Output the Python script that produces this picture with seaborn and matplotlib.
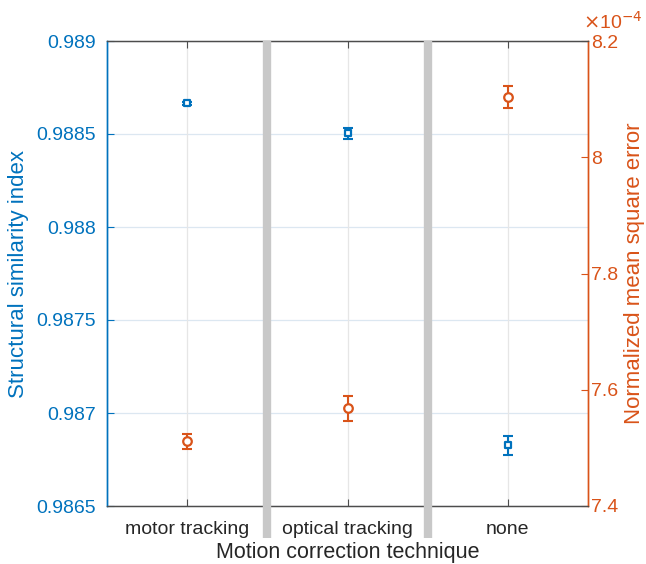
import numpy as np
import pandas as pd
import matplotlib
matplotlib.use("Agg")
import matplotlib.pyplot as plt
import seaborn as sns
from matplotlib.ticker import FuncFormatter

# ---- data ----
categories = ["motor tracking", "optical tracking", "none"]
ssim_mean = [0.988665, 0.988504, 0.986826]
ssim_err = [0.000008, 0.000030, 0.000050]
nmse_mean = [7.511, 7.568, 8.104]      # in units of 1e-4
nmse_err = [0.013, 0.021, 0.019]
ssim_ticks = [0.9865, 0.987, 0.9875, 0.988, 0.9885, 0.989]
nmse_ticks = [7.4, 7.6, 7.8, 8.0, 8.2]

BLUE = "#0072BD"
ORANGE = "#D95319"

sns.set_style("white")
plt.rcParams["font.family"] = ["Liberation Sans", "DejaVu Sans"]

df = pd.DataFrame({"cat": categories, "x": np.arange(len(categories)),
                   "ssim": ssim_mean, "ssim_err": ssim_err,
                   "nmse": nmse_mean, "nmse_err": nmse_err})

fig = plt.figure(figsize=(6.46, 5.64), dpi=100)
ax = fig.add_axes([107/646, 1-506/564, (588-107)/646, (506-41)/564])
ax2 = ax.twinx()

# left axis
ax.errorbar(df["x"], df["ssim"], yerr=df["ssim_err"], fmt="none",
            ecolor=BLUE, elinewidth=1.5, capsize=3.5, capthick=1.5, zorder=3)
sns.scatterplot(data=df, x="x", y="ssim", ax=ax, marker="s", s=22,
                facecolor="white", edgecolor=BLUE, linewidth=1.6, zorder=4, legend=False)
ax.set_ylim(0.9865, 0.989)
ax.set_yticks(ssim_ticks)
ax.yaxis.set_major_formatter(FuncFormatter(lambda v, p: f"{v:g}"))
ax.set_xlim(-0.5, 2.5)
ax.set_xticks(df["x"])
ax.set_xticklabels(categories)

# right axis
ax2.errorbar(df["x"], df["nmse"], yerr=df["nmse_err"], fmt="none",
             ecolor=ORANGE, elinewidth=1.5, capsize=3.5, capthick=1.5, zorder=3)
sns.scatterplot(data=df, x="x", y="nmse", ax=ax2, marker="o", s=38,
                facecolor="white", edgecolor=ORANGE, linewidth=1.6, zorder=4, legend=False)
ax2.set_ylim(7.4, 8.2)
ax2.set_yticks(nmse_ticks)
ax2.yaxis.set_major_formatter(FuncFormatter(lambda v, p: f"{v:g}"))
ax2.set_xlim(-0.5, 2.5)

# grid
ax.grid(False)
ax2.grid(False)
for t in ssim_ticks:
    ax.axhline(t, color="#dce7f1", lw=0.9, zorder=0)
for xv in df["x"]:
    ax.axvline(xv, color="#e6e6e6", lw=0.9, zorder=0)

# spines
for a in (ax, ax2):
    a.spines["top"].set_color("#4d4d4d")
    a.spines["bottom"].set_color("#4d4d4d")
    a.spines["top"].set_linewidth(0.9)
    a.spines["bottom"].set_linewidth(0.9)
    a.spines["left"].set_color(BLUE)
    a.spines["right"].set_color(ORANGE)
    a.spines["left"].set_linewidth(1.0)
    a.spines["right"].set_linewidth(1.0)

ax.tick_params(axis="y", direction="in", length=5, colors=BLUE, labelsize=14,
               left=True, right=False, labelleft=True, pad=8)
ax.tick_params(axis="x", direction="in", length=5, color="#4d4d4d",
               labelcolor="#262626", labelsize=14, top=True, bottom=True, pad=11)
ax2.tick_params(axis="y", direction="in", length=5, colors=ORANGE, labelsize=14,
                right=True, left=False, labelright=True, pad=2)
ax2.tick_params(axis="x", top=False, bottom=False)

ax.set_xlabel("Motion correction technique", fontsize=15.5, color="#262626", labelpad=3)
ax.set_ylabel("Structural similarity index", fontsize=16, color=BLUE, labelpad=5)
ax2.set_ylabel("Normalized mean square error", fontsize=16, color=ORANGE, labelpad=4)

# exponent label
fig.text(583/646, 1-29/564, r"$\times$10$^{-4}$", color=ORANGE, fontsize=14,
         ha="left", va="baseline")

# gray separators extending below the axes
trans = ax.get_xaxis_transform()
for xs in (0.5, 1.5):
    ax2.plot([xs, xs], [1.0, -(538-506)/465], transform=trans, color="#c8c8c8",
             lw=6, solid_capstyle="butt", clip_on=False, zorder=10)

fig.savefig("out.png", dpi=100)
